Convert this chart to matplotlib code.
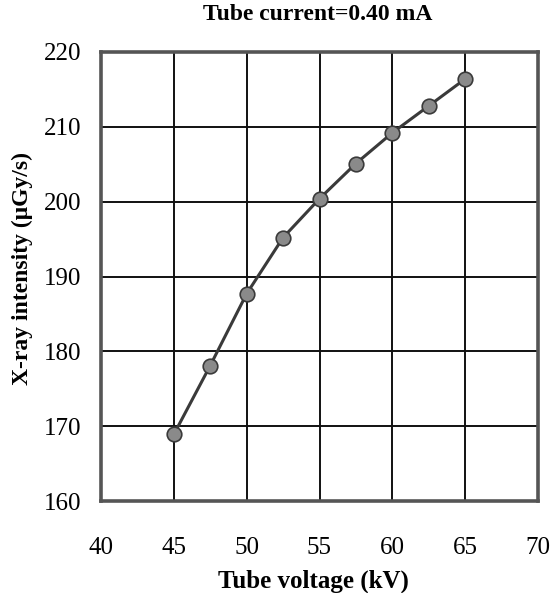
import matplotlib
matplotlib.use("Agg")
import matplotlib.pyplot as plt

# Tube voltage (kV) and measured X-ray intensity (uGy/s) at 0.40 mA
voltage_kv = [45, 47.5, 50, 52.5, 55, 57.5, 60, 62.5, 65]
intensity = [168.9, 178.1, 187.7, 195.2, 200.4, 205.1, 209.2, 212.8, 216.4]

x_ticks = [40, 45, 50, 55, 60, 65, 70]
y_ticks = [160, 170, 180, 190, 200, 210, 220]

plt.rcParams["font.family"] = ["Liberation Serif", "DejaVu Serif"]

fig = plt.figure(figsize=(5.51, 5.93), dpi=100)
ax = fig.add_axes([101 / 551, 1 - 501 / 593, (538 - 101) / 551, (501 - 52) / 593])

ax.plot(voltage_kv, intensity, color="#3a3a3a", linewidth=2.2, zorder=3,
        marker="o", markersize=10.5, markerfacecolor="#8a8a8a",
        markeredgecolor="#3a3a3a", markeredgewidth=1.2)

ax.set_xlim(40, 70)
ax.set_ylim(160, 220)
ax.set_xticks(x_ticks)
ax.set_yticks(y_ticks)
ax.grid(True, color="#111111", linewidth=1.4, zorder=1)
ax.set_axisbelow(True)
ax.tick_params(length=0, labelsize=18)
ax.tick_params(axis="x", pad=26)
ax.tick_params(axis="y", pad=14)

for side in ["left", "right", "top", "bottom"]:
    ax.spines[side].set_linewidth(2.6)
    ax.spines[side].set_color("#555555")

fig.text(318 / 551, 1 - 15 / 593, "Tube current=0.40 mA", ha="center", va="center",
         fontsize=17, fontweight="bold")
fig.text(313 / 551, 1 - 581 / 593, "Tube voltage (kV)", ha="center", va="center",
         fontsize=18, fontweight="bold")
fig.text(22 / 551, 1 - 268 / 593, "X-ray intensity (\u03bcGy/s)", ha="center", va="center",
         rotation=90, fontsize=17, fontweight="bold")

fig.savefig("out.png", dpi=100, facecolor="white")
